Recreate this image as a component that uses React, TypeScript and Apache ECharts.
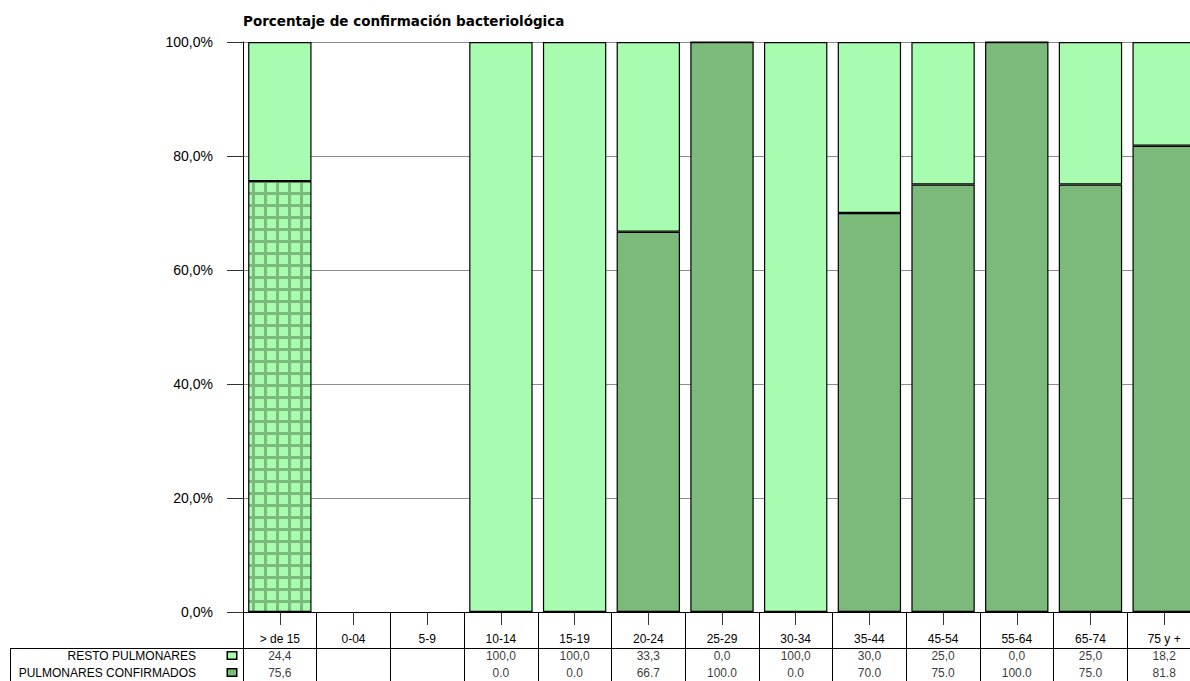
import React, { useEffect, useRef } from 'react';
import * as echarts from 'echarts';

const categories = ['> de 15', '0-04', '5-9', '10-14', '15-19', '20-24', '25-29', '30-34', '35-44', '45-54', '55-64', '65-74', '75 y +'];
const confirmados: (number | null)[] = [75.6, null, null, 0, 0, 66.7, 100, 0, 70, 75, 100, 75, 81.8];
const resto: (number | null)[] = [24.4, null, null, 100, 100, 33.3, 0, 100, 30, 25, 0, 25, 18.2];
const restoText = ['24,4', '', '', '100,0', '100,0', '33,3', '0,0', '100,0', '30,0', '25,0', '0,0', '25,0', '18,2'];
const confirmadosText = ['75,6', '', '', '0.0', '0.0', '66.7', '100.0', '0.0', '70.0', '75.0', '100.0', '75.0', '81.8'];
const rowNames = ['RESTO PULMONARES', 'PULMONARES CONFIRMADOS'];
const title = 'Porcentaje de confirmación bacteriológica';

const LIGHT = '#a8fcb0';
const DARK = '#7bba7b';
const FONT = 'Liberation Sans, Arial, sans-serif';

export default function App() {
  const ref = useRef<HTMLDivElement>(null);
  useEffect(() => {
    if (!ref.current) return;
    const chart = echarts.init(ref.current, null, { renderer: 'svg' });

    const c = document.createElement('canvas');
    c.width = 12;
    c.height = 12;
    const ctx = c.getContext('2d')!;
    ctx.fillStyle = DARK;
    ctx.fillRect(0, 0, 12, 12);
    ctx.fillStyle = LIGHT;
    ctx.fillRect(3, 3, 9, 9);

    const gLeft = 243;
    const gWidth = 958;

    const cellData: any[] = [];
    categories.forEach((_, i) => {
      if (restoText[i]) cellData.push([i, 0, restoText[i]]);
      if (confirmadosText[i]) cellData.push([i, 1, confirmadosText[i]]);
    });

    const option: any = {
      animation: false,
      title: {
        text: title,
        left: 243,
        top: 14,
        padding: 0,
        textStyle: { fontSize: 13.5, fontWeight: 'bold', color: '#000', fontFamily: 'DejaVu Sans, sans-serif' },
      },
      grid: [
        { left: gLeft, top: 42, width: gWidth, height: 570, outerBoundsMode: 'none' },
        { left: gLeft, top: 613, width: gWidth, height: 90, outerBoundsMode: 'none' },
        { left: gLeft, top: 647, width: gWidth, height: 34, outerBoundsMode: 'none' },
      ],
      xAxis: [
        {
          type: 'category',
          gridIndex: 0,
          data: categories,
          axisLine: { show: true, lineStyle: { color: '#000', width: 1 } },
          axisTick: { show: true, alignWithLabel: true, length: 13, lineStyle: { color: '#333' } },
          axisLabel: { margin: 21, fontSize: 12, color: '#000', fontFamily: FONT, interval: 0 },
          splitLine: { show: false },
        },
        {
          type: 'category',
          gridIndex: 1,
          data: categories,
          axisLine: { show: false },
          axisTick: { show: false },
          axisLabel: { show: false },
          splitLine: { show: true, lineStyle: { color: '#000', width: 1 } },
        },
        {
          type: 'category',
          gridIndex: 2,
          data: categories,
          axisLine: { show: false },
          axisTick: { show: false },
          axisLabel: { show: false },
          splitLine: { show: false },
        },
      ],
      yAxis: [
        {
          type: 'value',
          gridIndex: 0,
          min: 0,
          max: 100,
          interval: 20,
          axisLine: { show: true, lineStyle: { color: '#000', width: 1 } },
          axisTick: { show: true, length: 16, lineStyle: { color: '#333' } },
          axisLabel: {
            margin: 30,
            fontSize: 14,
            color: '#000',
            fontFamily: FONT,
            formatter: (v: number) => `${v},0%`,
          },
          splitLine: { show: true, lineStyle: { color: '#8c8c8c', width: 1 } },
        },
        {
          type: 'value',
          gridIndex: 1,
          show: false,
        },
        {
          type: 'category',
          gridIndex: 2,
          inverse: true,
          data: rowNames,
          axisLine: { show: false },
          axisTick: { show: false },
          splitLine: { show: false },
          axisLabel: {
            margin: 7,
            color: '#000',
            formatter: (v: string, idx: number) => `{n|${v}}{g|}{${idx === 0 ? 'a' : 'b'}|}`,
            rich: {
              n: { fontSize: 12, fontFamily: FONT, color: '#000' },
              g: { width: 32 },
              a: { width: 8, height: 6, backgroundColor: LIGHT, borderColor: '#000', borderWidth: 1.5 },
              b: { width: 8, height: 6, backgroundColor: DARK, borderColor: '#000', borderWidth: 1.5 },
            },
          },
        },
      ],
      series: [
        {
          name: 'PULMONARES CONFIRMADOS',
          type: 'bar',
          stack: 'total',
          xAxisIndex: 0,
          yAxisIndex: 0,
          barCategoryGap: '14%',
          data: confirmados.map((v, i) =>
            i === 0 ? { value: v, itemStyle: { color: { image: c, repeat: 'repeat' } } } : v
          ),
          itemStyle: { color: DARK, borderColor: '#000', borderWidth: 1.2 },
        },
        {
          name: 'RESTO PULMONARES',
          type: 'bar',
          stack: 'total',
          xAxisIndex: 0,
          yAxisIndex: 0,
          barCategoryGap: '14%',
          data: resto,
          itemStyle: { color: LIGHT, borderColor: '#000', borderWidth: 1.2 },
        },
        {
          type: 'scatter',
          xAxisIndex: 2,
          yAxisIndex: 2,
          symbolSize: 0,
          data: cellData,
          label: {
            show: true,
            position: 'inside',
            fontSize: 12,
            fontFamily: FONT,
            color: '#000',
            formatter: (p: any) => p.data[2],
          },
        },
      ],
      graphic: [
        { type: 'line', shape: { x1: 10, y1: 648.5, x2: 1240, y2: 648.5 }, style: { stroke: '#000', lineWidth: 1 } },
        { type: 'line', shape: { x1: 10.5, y1: 648, x2: 10.5, y2: 690 }, style: { stroke: '#000', lineWidth: 1 } },
      ],
    };
    chart.setOption(option);
    return () => chart.dispose();
  }, []);

  return (
    <div style={{ position: 'fixed', left: 0, top: 0, width: 1190, height: 681, overflow: 'hidden', background: '#fff' }}>
      <div ref={ref} style={{ width: 1240, height: 681 }} />
    </div>
  );
}
